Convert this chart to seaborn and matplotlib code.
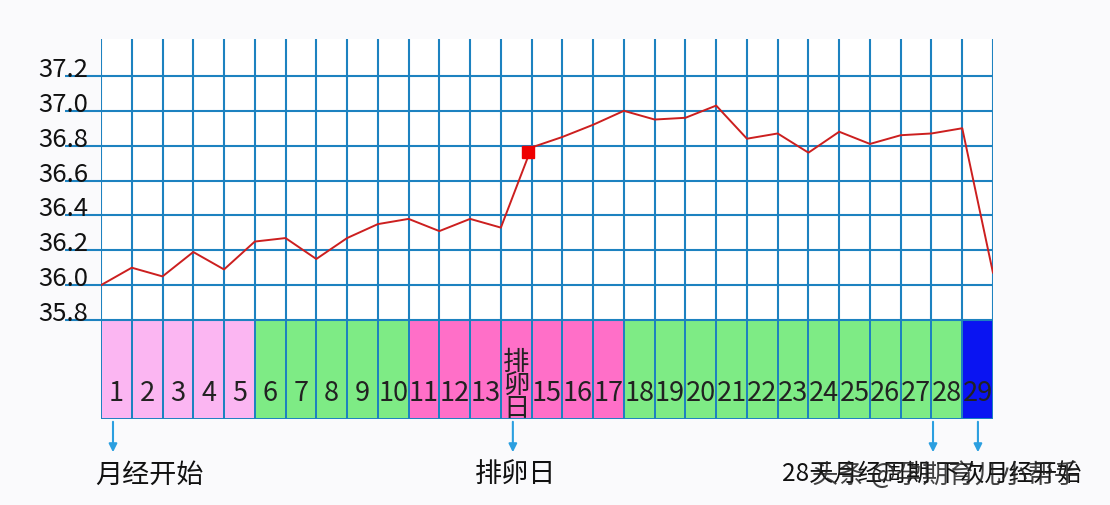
import numpy as np
import pandas as pd
import matplotlib
matplotlib.use("Agg")
import matplotlib.pyplot as plt
import seaborn as sns

# ---------------- data ----------------
temps = [36.00, 36.10, 36.05, 36.19, 36.09, 36.25, 36.27, 36.15, 36.27, 36.35,
         36.38, 36.31, 36.38, 36.33, 36.79, 36.85, 36.92, 37.00, 36.95, 36.96,
         37.03, 36.84, 36.87, 36.76, 36.88, 36.81, 36.86, 36.87, 36.90, 36.07]
ovulation_index = 14
day_labels = [str(d) for d in range(1, 30)]
day_labels[13] = "排\n卵\n日"
day_phase = (["period"] * 5 + ["follicular"] * 5 + ["fertile"] * 7 +
             ["luteal"] * 11 + ["next"])
y_ticks = [35.8, 36.0, 36.2, 36.4, 36.6, 36.8, 37.0, 37.2]
y_tick_labels = ["35.8", "36.0", "36.2", "36.4", "36.6", "36.8", "37.0", "37.2"]
arrow_days = [0.39, 13.39, 27.05, 28.51]
bottom_notes = ["月经开始", "排卵日"]
bottom_right_note = "28天月经周期 下次月经开始"
watermark = "头条 @孕期育儿小帮手"

# ---------------- style ----------------
sns.set_theme(style="white")
plt.rcParams["font.family"] = ["Noto Sans CJK SC", "DejaVu Sans"]

phase_colors = {"period": "#fbb6f2", "follicular": "#7eeb85",
                "fertile": "#ff6fc8", "luteal": "#7eeb85", "next": "#0a14f2"}
grid_c = "#1d82c0"
arrow_c = "#2b9fe0"

W, H = 1110, 506
fig = plt.figure(figsize=(W / 100, H / 100), dpi=100, facecolor="#fafafc")
left_px, right_px, top_px, bot_px = 101, 993, 40, 420
ax = fig.add_axes([left_px / W, 1 - bot_px / H, (right_px - left_px) / W,
                   (bot_px - top_px) / H])
ax.set_facecolor("white")
ymin, ymax = 35.232, 37.412
ax.set_xlim(0, 29)
ax.set_ylim(ymin, ymax)
for s in ax.spines.values():
    s.set_visible(False)
ax.set_xticks([])
ax.set_yticks([])

# day boxes
box_top = 35.8
ax.bar(np.arange(29) + 0.5, box_top - ymin, bottom=ymin, width=1.0,
       color=[phase_colors[p] for p in day_phase], edgecolor=grid_c,
       linewidth=1.4, zorder=1)

# grid
x_left_ext = (65 - left_px) / ((right_px - left_px) / 29)
ax.hlines(y_ticks, x_left_ext, 29, color=grid_c, linewidth=1.5,
          clip_on=False, zorder=2)
ax.vlines(np.arange(30), box_top, ymax, color=grid_c, linewidth=1.5, zorder=2)
ax.vlines(np.arange(30), ymin, box_top, color=grid_c, linewidth=1.4, zorder=2)

# temperature line
df = pd.DataFrame({"x": np.arange(len(temps)), "t": temps})
sns.lineplot(data=df, x="x", y="t", ax=ax, color="#cc1f1f", linewidth=1.4,
             zorder=4)
ax.plot(df["x"][ovulation_index] - 0.12, df["t"][ovulation_index] - 0.025,
        marker="s", markersize=8, color="#ee0000", zorder=5, linestyle="none")
ax.set_xlabel("")
ax.set_ylabel("")

# y labels
xlab = (38 - left_px) / ((right_px - left_px) / 29)
for v, lab in zip(y_ticks, y_tick_labels):
    ax.text(xlab, v, lab, ha="left", va="baseline", fontsize=18.5,
            color="#111111", clip_on=False)

# day labels
for i, lab in enumerate(day_labels):
    if "\n" in lab:
        ax.text(i + 0.5, 35.43, lab, ha="center", va="center", fontsize=19,
                linespacing=0.82, color="#222222")
    else:
        ax.text(i + 0.5, 35.385, lab, ha="center", va="center", fontsize=19.5,
                color="#222222")

# arrows
arrow_end = 35.232 - 36 / 174.3
for xd in arrow_days:
    ax.annotate("", xy=(xd, arrow_end), xytext=(xd, ymin),
                arrowprops=dict(arrowstyle="-|>", color=arrow_c, lw=1.5,
                                mutation_scale=12),
                annotation_clip=False)

# bottom notes
fig.text(95 / W, 1 - 475 / H, bottom_notes[0], ha="left", va="center",
         fontsize=19.5, color="#111111")
fig.text(475 / W, 1 - 475 / H, bottom_notes[1], ha="left", va="center",
         fontsize=19.5, color="#111111")
fig.text(782 / W, 1 - 475 / H, bottom_right_note, ha="left", va="center",
         fontsize=17.5, color="#111111")
fig.text(812 / W, 1 - 475 / H, watermark, ha="left", va="center",
         fontsize=19, color="#222222", alpha=0.85)

fig.savefig("out.png", dpi=100, facecolor=fig.get_facecolor())
